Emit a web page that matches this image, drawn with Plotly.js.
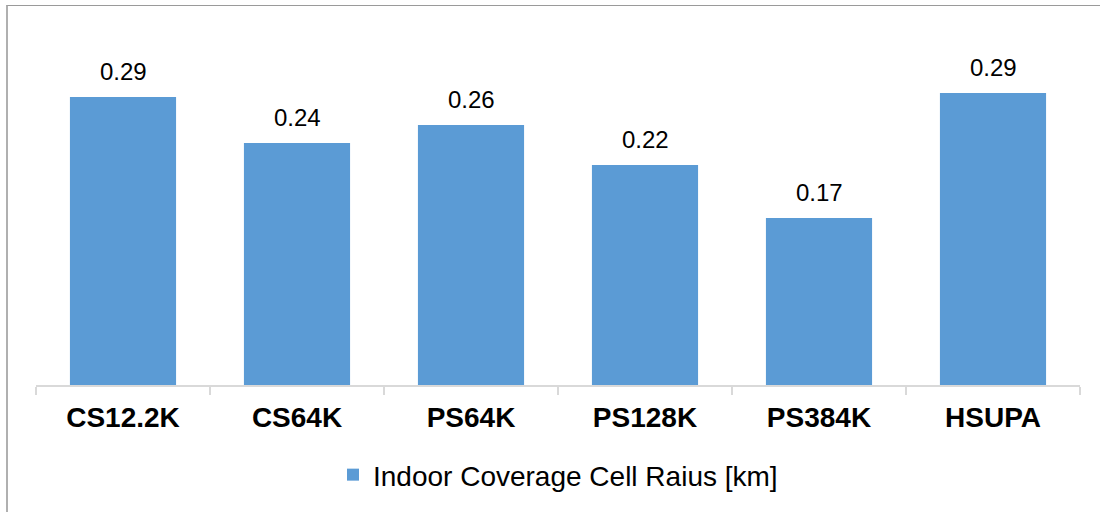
<!DOCTYPE html>
<html>
<head>
<meta charset="utf-8">
<script src="https://cdn.plot.ly/plotly-3.0.1.min.js"></script>
<style>
  html, body { margin: 0; padding: 0; background: #ffffff; }
  #wrap { position: relative; width: 1100px; height: 512px; }
  #chart { width: 1100px; height: 512px; }
  #frame {
    position: absolute; left: 6px; top: 5px; right: 0; bottom: 0;
    border-top: 1px solid #9a9a9a; border-left: 2px solid #b0b0b0;
    pointer-events: none;
  }
</style>
</head>
<body>
<div id="wrap">
  <div id="chart"></div>
  <div id="frame"></div>
</div>
<script>
// Indoor coverage cell radius per bearer service (km)
const services = ['CS12.2K', 'CS64K', 'PS64K', 'PS128K', 'PS384K', 'HSUPA'];
const cellRadius = [0.288, 0.242, 0.260, 0.220, 0.167, 0.292];
const seriesName = 'Indoor Coverage Cell Raius [km]';

const FONT = '"Liberation Sans", Arial, sans-serif';
const BAR_COLOR = '#5b9bd5';

const trace = {
  type: 'bar',
  x: services,
  y: cellRadius,
  name: seriesName,
  marker: { color: BAR_COLOR },
  hoverinfo: 'x+y',
  showlegend: true
};

// value labels above each bar, two decimals
const valueLabels = services.map((s, i) => ({
  x: s,
  y: cellRadius[i],
  xref: 'x',
  yref: 'y',
  text: cellRadius[i].toFixed(2),
  showarrow: false,
  yanchor: 'bottom',
  yshift: 10,
  font: { family: FONT, size: 24, color: '#000000' }
}));

const layout = {
  width: 1100,
  height: 512,
  margin: { l: 36, r: 20, t: 35, b: 127, pad: 0 },
  paper_bgcolor: '#ffffff',
  plot_bgcolor: '#ffffff',
  bargap: 0.39,
  font: { family: FONT, color: '#000000' },
  xaxis: {
    type: 'category',
    showline: true,
    linecolor: '#d9d9d9',
    linewidth: 2,
    ticks: 'outside',
    tickson: 'boundaries',
    ticklen: 8,
    tickwidth: 2,
    tickcolor: '#d9d9d9',
    ticklabelstandoff: 6,
    showgrid: false,
    zeroline: false,
    tickfont: { family: FONT, size: 28, color: '#000000', weight: 'bold' },
    fixedrange: true
  },
  yaxis: {
    range: [0, 0.35],
    visible: false,
    showgrid: false,
    zeroline: false,
    fixedrange: true
  },
  showlegend: true,
  legend: {
    orientation: 'h',
    x: 0.5,
    xanchor: 'center',
    y: -0.257,
    yanchor: 'middle',
    font: { family: FONT, size: 28, color: '#000000' },
    bgcolor: 'rgba(0,0,0,0)'
  },
  annotations: valueLabels
};

Plotly.newPlot('chart', [trace], layout, { displayModeBar: false, staticPlot: true });
</script>
</body>
</html>
